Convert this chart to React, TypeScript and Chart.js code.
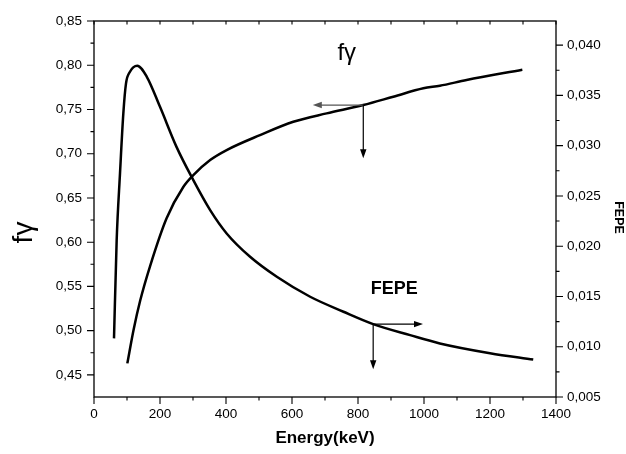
import React, { useEffect, useRef } from "react";
import { Chart, registerables } from "chart.js";

Chart.register(...registerables);

// f-gamma (left axis)
const fgEnergy = [101, 120, 140, 170, 220, 271, 301, 352, 402, 503, 604, 705, 816, 907, 998, 1048, 1129, 1298];
const fgValues = [0.463, 0.501, 0.534, 0.573, 0.627, 0.6626, 0.6758, 0.6928, 0.7041, 0.721, 0.7361, 0.7456, 0.755, 0.7644, 0.7739, 0.7768, 0.7833, 0.7949];

// FEPE (right axis)
const fepeEnergy = [60.6, 68.7, 78.8, 88.9, 97, 109, 131, 160, 200, 250, 301, 352, 402, 473, 554, 655, 756, 846, 958, 1048, 1200, 1331];
const fepeValues = [0.01083, 0.0206, 0.02724, 0.03321, 0.03619, 0.03735, 0.03795, 0.03685, 0.03386, 0.02988, 0.02657, 0.02359, 0.02127, 0.01895, 0.01696, 0.01497, 0.01348, 0.01225, 0.01115, 0.01033, 0.00936, 0.00873];

// ticks
const xTicks = [0, 200, 400, 600, 800, 1000, 1200, 1400];
const xMinorTicks = [100, 300, 500, 700, 900, 1100, 1300];
const leftTicks = [0.45, 0.5, 0.55, 0.6, 0.65, 0.7, 0.75, 0.8, 0.85];
const leftMinorTicks = [0.475, 0.525, 0.575, 0.625, 0.675, 0.725, 0.775, 0.825];
const rightTicks = [0.005, 0.01, 0.015, 0.02, 0.025, 0.03, 0.035, 0.04];
const rightMinorTicks = [0.0075, 0.0125, 0.0175, 0.0225, 0.0275, 0.0325, 0.0375];

// annotation anchors (data units)
const fgArrow = [816, 0.755, 663, 0.695]; // origin E, origin value, left end E, down end value
const fepeArrow = [846, 0.01225, 997, 0.00775];
const fgLabelPos = [766, 0.806];
const fepeLabelPos = [910, 0.01524];

const FONT = "'Liberation Sans', Arial, Helvetica, sans-serif";

const fmt = (v: number, d: number) => Number(v).toFixed(d).replace(".", ",");

function arrow(ctx: CanvasRenderingContext2D, x1: number, y1: number, x2: number, y2: number, color: string) {
  const ang = Math.atan2(y2 - y1, x2 - x1);
  const L = 9, W = 3.2;
  ctx.strokeStyle = color;
  ctx.fillStyle = color;
  ctx.lineWidth = 1.2;
  ctx.beginPath();
  ctx.moveTo(x1, y1);
  ctx.lineTo(x2 - Math.cos(ang) * (L - 1), y2 - Math.sin(ang) * (L - 1));
  ctx.stroke();
  ctx.beginPath();
  ctx.moveTo(x2, y2);
  ctx.lineTo(x2 - L * Math.cos(ang) + W * Math.sin(ang), y2 - L * Math.sin(ang) - W * Math.cos(ang));
  ctx.lineTo(x2 - L * Math.cos(ang) - W * Math.sin(ang), y2 - L * Math.sin(ang) + W * Math.cos(ang));
  ctx.closePath();
  ctx.fill();
}

const framePlugin = {
  id: "frameAndAnnotations",
  afterDraw(chart: any) {
    const { ctx, chartArea: a, scales } = chart;
    const x = scales.x, y = scales.y, y2 = scales.y2;
    ctx.save();
    ctx.strokeStyle = "#000";
    ctx.lineWidth = 1.3;
    ctx.strokeRect(a.left, a.top, a.right - a.left, a.bottom - a.top);
    ctx.lineWidth = 1.1;
    ctx.beginPath();
    const MAJ = 7, MIN = 3.5;
    xTicks.forEach((v) => { const p = x.getPixelForValue(v); ctx.moveTo(p, a.bottom); ctx.lineTo(p, a.bottom + MAJ); });
    xMinorTicks.forEach((v) => { const p = x.getPixelForValue(v); ctx.moveTo(p, a.bottom); ctx.lineTo(p, a.bottom + MIN); });
    [...xTicks, ...xMinorTicks].forEach((v) => { const p = x.getPixelForValue(v); ctx.moveTo(p, a.top); ctx.lineTo(p, a.top + 3.5); });
    leftTicks.forEach((v) => { const p = y.getPixelForValue(v); ctx.moveTo(a.left, p); ctx.lineTo(a.left - MAJ, p); });
    leftMinorTicks.forEach((v) => { const p = y.getPixelForValue(v); ctx.moveTo(a.left, p); ctx.lineTo(a.left - MIN, p); });
    rightTicks.forEach((v) => { const p = y2.getPixelForValue(v); ctx.moveTo(a.right, p); ctx.lineTo(a.right + MAJ, p); });
    rightMinorTicks.forEach((v) => { const p = y2.getPixelForValue(v); ctx.moveTo(a.right, p); ctx.lineTo(a.right + MIN, p); });
    ctx.stroke();

    const fx = x.getPixelForValue(fgArrow[0]), fy = y.getPixelForValue(fgArrow[1]);
    arrow(ctx, fx, fy, x.getPixelForValue(fgArrow[2]), fy, "#555");
    arrow(ctx, fx, fy, fx, y.getPixelForValue(fgArrow[3]), "#000");
    const ex = x.getPixelForValue(fepeArrow[0]), ey = y2.getPixelForValue(fepeArrow[1]);
    arrow(ctx, ex, ey, x.getPixelForValue(fepeArrow[2]), ey, "#000");
    arrow(ctx, ex, ey, ex, y2.getPixelForValue(fepeArrow[3]), "#000");

    ctx.fillStyle = "#000";
    ctx.textAlign = "center";
    ctx.textBaseline = "alphabetic";
    ctx.font = `24px ${FONT}`;
    ctx.fillText("fγ", x.getPixelForValue(fgLabelPos[0]), y.getPixelForValue(fgLabelPos[1]));
    ctx.font = `bold 18px ${FONT}`;
    ctx.fillText("FEPE", x.getPixelForValue(fepeLabelPos[0]), y2.getPixelForValue(fepeLabelPos[1]));

    const midY = (a.top + a.bottom) / 2;
    ctx.save();
    ctx.translate(a.left - 62, midY + 23.5);
    ctx.rotate(-Math.PI / 2);
    ctx.font = `28px ${FONT}`;
    ctx.fillText("fγ", 0, 0);
    ctx.restore();
    ctx.save();
    ctx.translate(a.right + 59, midY + 8.5);
    ctx.rotate(Math.PI / 2);
    ctx.font = `bold 12.5px ${FONT}`;
    ctx.fillText("FEPE", 0, 0);
    ctx.restore();
    ctx.restore();
  },
};

export default function App() {
  const ref = useRef<HTMLCanvasElement | null>(null);
  useEffect(() => {
    document.body.style.margin = "0";
    const canvas = ref.current;
    if (!canvas) return;
    const tickFont = { family: FONT, size: 13.5 };
    const chart = new Chart(canvas, {
      type: "line",
      data: {
        datasets: [
          {
            label: "fγ",
            data: fgEnergy.map((e, i) => ({ x: e, y: fgValues[i] })),
            yAxisID: "y",
            borderColor: "#000",
            borderWidth: 2.5,
            pointRadius: 0,
            fill: false,
            cubicInterpolationMode: "monotone",
          },
          {
            label: "FEPE",
            data: fepeEnergy.map((e, i) => ({ x: e, y: fepeValues[i] })),
            yAxisID: "y2",
            borderColor: "#000",
            borderWidth: 2.5,
            pointRadius: 0,
            fill: false,
            cubicInterpolationMode: "monotone",
          },
        ],
      },
      options: {
        animation: false,
        responsive: false,
        devicePixelRatio: 1,
        layout: { padding: { top: 21, left: 0, right: 0, bottom: 0 } },
        plugins: { legend: { display: false }, tooltip: { enabled: false } },
        scales: {
          x: {
            type: "linear",
            position: "bottom",
            min: 0,
            max: 1400,
            afterBuildTicks: (s: any) => { s.ticks = xTicks.map((v) => ({ value: v })); },
            afterFit: (s: any) => { s.height = 57; },
            grid: { drawOnChartArea: false, drawTicks: false },
            border: { display: false },
            ticks: { padding: 9, color: "#000", font: tickFont, autoSkip: false, maxRotation: 0, callback: (v: any) => String(v) },
            title: { display: true, text: "Energy(keV)", color: "#000", font: { family: FONT, size: 17, weight: "bold" }, padding: { top: 0, bottom: 5 } },
          },
          y: {
            type: "linear",
            position: "left",
            min: 0.425,
            max: 0.85,
            afterBuildTicks: (s: any) => { s.ticks = leftTicks.map((v) => ({ value: v })); },
            afterFit: (s: any) => { s.width = 94; },
            grid: { drawOnChartArea: false, drawTicks: false },
            border: { display: false },
            ticks: { padding: 12, color: "#000", font: tickFont, autoSkip: false, callback: (v: any) => fmt(v, 2) },
          },
          y2: {
            type: "linear",
            position: "right",
            min: 0.005,
            max: 0.0424,
            afterBuildTicks: (s: any) => { s.ticks = rightTicks.map((v) => ({ value: v })); },
            afterFit: (s: any) => { s.width = 70; },
            grid: { drawOnChartArea: false, drawTicks: false },
            border: { display: false },
            ticks: { padding: 11, color: "#000", font: tickFont, autoSkip: false, callback: (v: any) => fmt(v, 3) },
          },
        },
      },
      plugins: [framePlugin],
    } as any);
    return () => chart.destroy();
  }, []);
  return (
    <div style={{ position: "absolute", left: 0, top: 0, width: 626, height: 454, background: "#fff" }}>
      <canvas ref={ref} width={626} height={454} />
    </div>
  );
}
